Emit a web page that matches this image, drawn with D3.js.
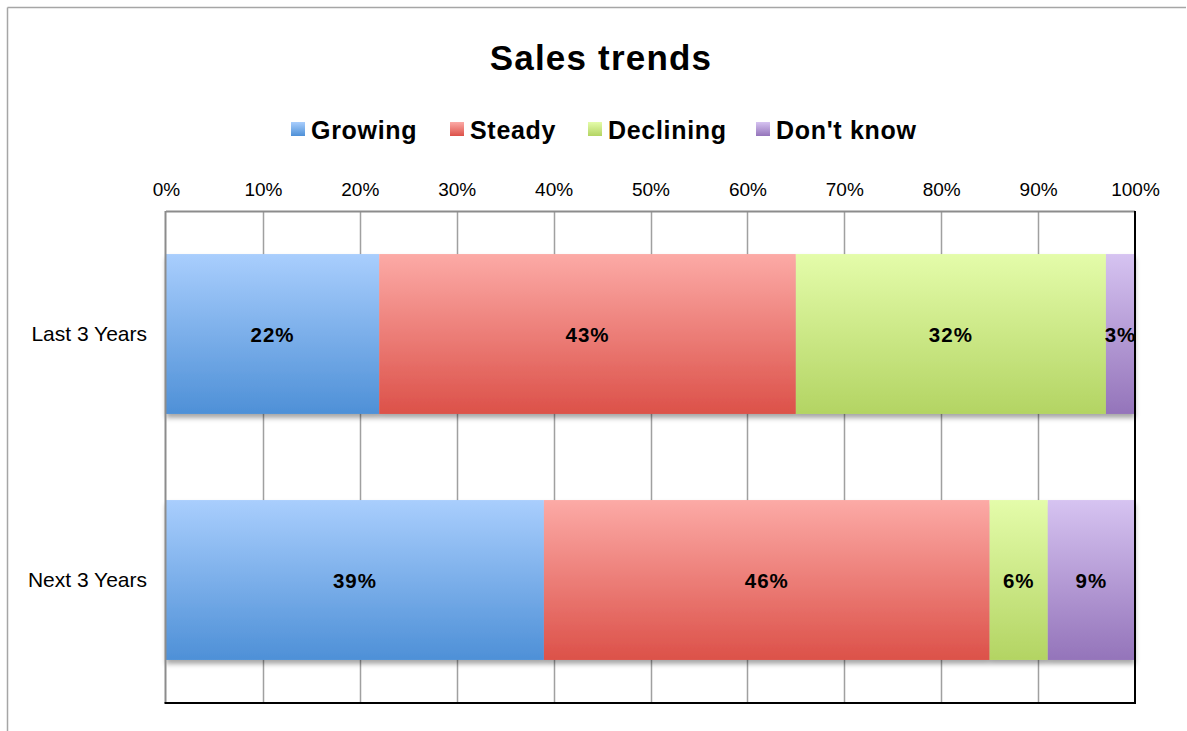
<!DOCTYPE html>
<html>
<head>
<meta charset="utf-8">
<script src="https://cdn.jsdelivr.net/npm/d3@7"></script>
<style>
  html, body { margin: 0; padding: 0; background: #fff; }
  svg { display: block; font-family: "Liberation Sans", Arial, Helvetica, sans-serif; }
</style>
</head>
<body>
<svg id="chart" width="1187" height="731"></svg>
<script>
// Survey periods (rows) and answer groups (stacked segments)
const categories = ["Last 3 Years", "Next 3 Years"];
const seriesNames = ["Growing", "Steady", "Declining", "Don't know"];
const growing   = [22, 39];
const steady    = [43, 46];
const declining = [32, 6];
const dontKnow  = [3, 9];
const tickValues = [0, 10, 20, 30, 40, 50, 60, 70, 80, 90, 100];
const tickLabels = ["0%", "10%", "20%", "30%", "40%", "50%", "60%", "70%", "80%", "90%", "100%"];

const seriesValues = [growing, steady, declining, dontKnow];
const palette = [
  { top: "#a9cefd", bottom: "#4e90d7" },
  { top: "#fcaaa6", bottom: "#dc5149" },
  { top: "#e4fcaa", bottom: "#b3d463" },
  { top: "#d6c3f1", bottom: "#9474ba" }
];

const svg = d3.select("#chart");
const defs = svg.append("defs");

palette.forEach((c, i) => {
  const g = defs.append("linearGradient")
    .attr("id", "grad" + i).attr("x1", 0).attr("y1", 0).attr("x2", 0).attr("y2", 1);
  g.append("stop").attr("offset", "0%").attr("stop-color", c.top);
  g.append("stop").attr("offset", "100%").attr("stop-color", c.bottom);
});

const shadow = defs.append("filter").attr("id", "shadow")
  .attr("x", "-5%").attr("y", "-10%").attr("width", "110%").attr("height", "130%");
shadow.append("feDropShadow").attr("dx", 0).attr("dy", 4).attr("stdDeviation", 2.5)
  .attr("flood-color", "#000").attr("flood-opacity", 0.35);

// Outer chart frame (top and left edges)
svg.append("line").attr("x1", 7.5).attr("y1", 7.5).attr("x2", 1186).attr("y2", 7.5)
  .attr("stroke", "#a6a6a6").attr("stroke-width", 1.5);
svg.append("line").attr("x1", 7.5).attr("y1", 7.5).attr("x2", 7.5).attr("y2", 731)
  .attr("stroke", "#a6a6a6").attr("stroke-width", 1.5);

const plot = { left: 166, top: 211, right: 1135, bottom: 703 };

const x = d3.scaleLinear().domain([0, 100]).range([plot.left, plot.right]);
const y = d3.scaleBand().domain(categories).range([plot.top, plot.bottom])
  .paddingInner(0.35).paddingOuter(0.175);

// Title
svg.append("text").attr("x", 601).attr("y", 70).attr("text-anchor", "middle")
  .attr("font-size", 35).attr("font-weight", "bold").attr("letter-spacing", 1.2)
  .attr("fill", "#000").text("Sales trends");

// Legend
const legendX = [291, 450, 588, 756];
const legend = svg.append("g");
seriesNames.forEach((name, i) => {
  const g = legend.append("g").attr("transform", `translate(${legendX[i]},0)`);
  g.append("rect").attr("x", 0).attr("y", 122).attr("width", 14).attr("height", 14)
    .attr("fill", `url(#grad${i})`);
  g.append("text").attr("x", 20).attr("y", 139).attr("font-size", 25)
    .attr("font-weight", "bold").attr("letter-spacing", 0.7).attr("fill", "#000").text(name);
});

// Vertical gridlines
svg.append("g").selectAll("line").data(tickValues.slice(1, -1)).join("line")
  .attr("x1", d => Math.round(x(d)) + 0.5).attr("x2", d => Math.round(x(d)) + 0.5)
  .attr("y1", plot.top).attr("y2", plot.bottom)
  .attr("stroke", "#a0a0a0").attr("stroke-width", 1.5);

// Top axis labels
const xAxis = d3.axisTop(x).tickValues(tickValues)
  .tickFormat((d, i) => tickLabels[i]).tickSize(0).tickPadding(15);
const gx = svg.append("g").attr("transform", `translate(0,${plot.top})`).call(xAxis);
gx.select(".domain").remove();
gx.selectAll("text").attr("font-size", 19).attr("fill", "#000")
  .attr("font-family", "'Liberation Sans', Arial, sans-serif");

// Category axis labels
const yAxis = d3.axisLeft(y).tickSize(0).tickPadding(19);
const gy = svg.append("g").attr("transform", `translate(${plot.left},0)`).call(yAxis);
gy.select(".domain").remove();
gy.selectAll("text").attr("font-size", 21).attr("fill", "#000")
  .attr("font-family", "'Liberation Sans', Arial, sans-serif");

// Stacked segments
const rows = categories.map((c, ci) => {
  const r = { category: c };
  seriesNames.forEach((s, si) => { r[s] = seriesValues[si][ci]; });
  return r;
});
const stacked = d3.stack().keys(seriesNames)(rows);

const barsG = svg.append("g");
categories.forEach((c, ci) => {
  const row = barsG.append("g").attr("filter", "url(#shadow)");
  stacked.forEach((layer, si) => {
    const d = layer[ci];
    row.append("rect")
      .attr("x", x(d[0])).attr("y", y(c))
      .attr("width", x(d[1]) - x(d[0])).attr("height", y.bandwidth())
      .attr("fill", `url(#grad${si})`);
  });
});

// Segment value labels
stacked.forEach((layer, si) => {
  layer.forEach((d, ci) => {
    svg.append("text")
      .attr("x", (x(d[0]) + x(d[1])) / 2)
      .attr("y", y(categories[ci]) + y.bandwidth() / 2 + 8)
      .attr("text-anchor", "middle").attr("font-size", 20.5).attr("font-weight", "bold")
      .attr("letter-spacing", 1)
      .attr("fill", "#000").text(seriesValues[si][ci] + "%");
  });
});

// Plot area border: grey top/left, black right/bottom
svg.append("line").attr("x1", plot.left).attr("x2", plot.right).attr("y1", plot.top + 0.5).attr("y2", plot.top + 0.5)
  .attr("stroke", "#8c8c8c").attr("stroke-width", 2);
svg.append("line").attr("x1", plot.left - 0.5).attr("x2", plot.left - 0.5).attr("y1", plot.top).attr("y2", plot.bottom)
  .attr("stroke", "#8c8c8c").attr("stroke-width", 2);
svg.append("line").attr("x1", plot.right).attr("x2", plot.right).attr("y1", plot.top).attr("y2", plot.bottom + 1)
  .attr("stroke", "#000").attr("stroke-width", 2);
svg.append("line").attr("x1", plot.left - 1.5).attr("x2", plot.right + 1).attr("y1", plot.bottom).attr("y2", plot.bottom)
  .attr("stroke", "#000").attr("stroke-width", 2);
</script>
</body>
</html>
